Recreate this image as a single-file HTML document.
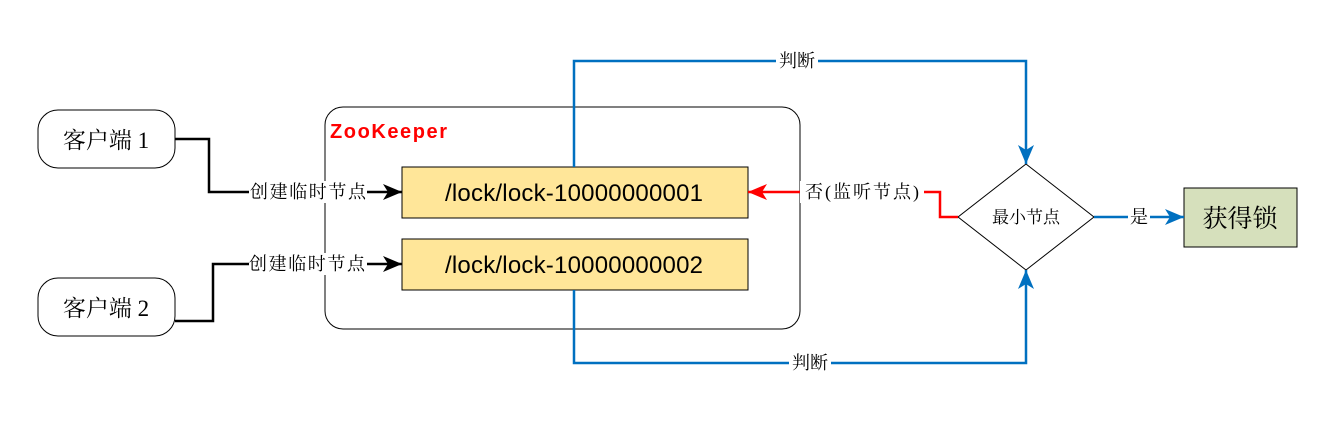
<!DOCTYPE html>
<html><head><meta charset="utf-8"><style>
body{margin:0;background:#fff}
svg{display:block}
text{font-family:"Liberation Sans","Noto Sans CJK SC",sans-serif}
.s{font-family:"Liberation Serif","Noto Serif CJK SC",serif}
</style></head><body>
<svg width="1334" height="423" viewBox="0 0 1334 423" xmlns="http://www.w3.org/2000/svg">
<defs>
<marker id="ar" markerWidth="20" markerHeight="20" refX="19" refY="8" orient="auto" markerUnits="userSpaceOnUse"><path d="M0,0 L19,8 L0,16 L5,8 z" fill="#f00"/></marker>
<marker id="au" markerWidth="20" markerHeight="20" refX="19" refY="8" orient="auto" markerUnits="userSpaceOnUse"><path d="M0,0 L19,8 L0,16 L5,8 z" fill="#0070c0"/></marker>
<marker id="ak" markerWidth="20" markerHeight="20" refX="19" refY="8" orient="auto" markerUnits="userSpaceOnUse"><path d="M0,0 L19,8 L0,16 L5,8 z" fill="#000"/></marker>
</defs>
<rect x="325" y="107" width="475" height="222" rx="18" fill="#fff" stroke="#000" stroke-width="1"/>
<text x="330" y="138" font-size="20" font-weight="bold" fill="#f00" textLength="117">ZooKeeper</text>
<rect x="38" y="110" width="137" height="58" rx="20" fill="#fff" stroke="#000"/>
<text x="106" y="148" font-size="23" text-anchor="middle" class="s">客户端 1</text>
<rect x="38" y="278" width="137" height="58" rx="20" fill="#fff" stroke="#000"/>
<text x="106" y="316" font-size="23" text-anchor="middle" class="s">客户端 2</text>
<rect x="402" y="167" width="346" height="51" fill="#ffe699" stroke="#000"/>
<text x="574" y="201" font-size="24" text-anchor="middle" textLength="258">/lock/lock-10000000001</text>
<rect x="402" y="239" width="346" height="51" fill="#ffe699" stroke="#000"/>
<text x="574" y="273" font-size="24" text-anchor="middle" textLength="258">/lock/lock-10000000002</text>
<polygon points="1026,164 1094,217 1026,270 958,217" fill="#fff" stroke="#000"/>
<text x="1026" y="223" font-size="17" text-anchor="middle" class="s">最小节点</text>
<rect x="1184" y="188" width="113" height="59" fill="#d6e0bc" stroke="#000"/>
<text x="1240" y="227" font-size="25" text-anchor="middle" class="s">获得锁</text>
<polyline points="175,139 209,139 209,192 402,192" fill="none" stroke="#000" stroke-width="2.5" marker-end="url(#ak)"/>
<polyline points="175,321 213,321 213,264 402,264" fill="none" stroke="#000" stroke-width="2.5" marker-end="url(#ak)"/>
<rect x="249" y="181" width="118" height="22" fill="#fff"/>
<text x="308" y="198" font-size="18" text-anchor="middle" class="s" textLength="116">创建临时节点</text>
<rect x="249" y="253" width="118" height="22" fill="#fff"/>
<text x="307" y="270" font-size="18" text-anchor="middle" class="s" textLength="116">创建临时节点</text>
<polyline points="958,217 940,217 940,192 748,192" fill="none" stroke="#f00" stroke-width="2.5" marker-end="url(#ar)"/>
<rect x="800" y="181" width="124" height="22" fill="#fff"/>
<text x="862" y="198" font-size="18" text-anchor="middle" class="s" textLength="114">否(监听节点)</text>
<polyline points="574,167 574,61 1026,61 1026,164" fill="none" stroke="#0070c0" stroke-width="2.5" marker-end="url(#au)"/>
<polyline points="574,290 574,363 1026,363 1026,270" fill="none" stroke="#0070c0" stroke-width="2.5" marker-end="url(#au)"/>
<polyline points="1094,217 1184,217" fill="none" stroke="#0070c0" stroke-width="2.5" marker-end="url(#au)"/>
<rect x="776" y="50" width="42" height="22" fill="#fff"/>
<text x="797" y="67" font-size="18" text-anchor="middle" class="s">判断</text>
<rect x="789" y="352" width="42" height="22" fill="#fff"/>
<text x="810" y="369" font-size="18" text-anchor="middle" class="s">判断</text>
<rect x="1128" y="206" width="22" height="22" fill="#fff"/>
<text x="1139" y="223" font-size="18" text-anchor="middle" class="s">是</text>
</svg>
</body></html>
